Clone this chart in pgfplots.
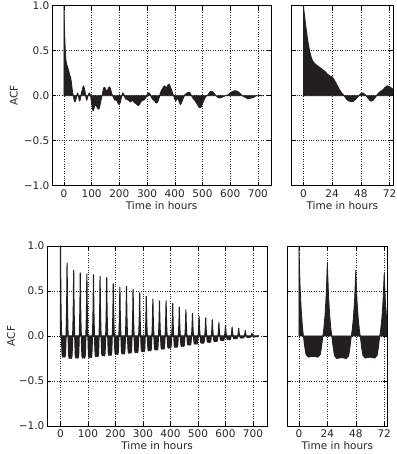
\documentclass[border=0pt]{standalone}
\usepackage{fontspec}
\setmainfont{DejaVu Sans}
\usepackage{pgfplots}
\usepackage{pgfplotstable}
\pgfplotsset{compat=1.18}
\definecolor{acfc}{RGB}{35,31,32}

\pgfplotstableread[row sep=\\]{
x y\\
0 1.00\\ 1 0.88\\ 2 0.77\\ 3 0.67\\ 4 0.58\\ 5 0.51\\ 6 0.45\\ 7 0.41\\ 8 0.38\\ 10 0.35\\
12 0.33\\ 14 0.31\\ 16 0.29\\ 18 0.27\\ 20 0.24\\ 22 0.22\\ 24 0.21\\ 26 0.17\\ 28 0.12\\ 30 0.07\\
32 0.03\\ 34 0.00\\ 36 -0.04\\ 38 -0.06\\ 40 -0.067\\ 42 -0.06\\ 44 -0.035\\ 46 -0.005\\ 48 0.025\\ 50 0.03\\
52 0.005\\ 54 -0.03\\ 56 -0.06\\ 58 -0.055\\ 60 -0.02\\ 62 0.02\\ 64 0.045\\ 66 0.06\\ 68 0.09\\ 70 0.11\\
72 0.10\\ 74 0.08\\ 76 0.05\\ 78 0.01\\ 80 -0.03\\ 82 -0.05\\ 84 -0.04\\ 86 -0.01\\ 88 0.01\\ 90 0.025\\
92 0.03\\ 94 0.02\\ 96 0.00\\ 98 -0.04\\ 100 -0.09\\ 104 -0.16\\ 106 -0.17\\ 108 -0.15\\ 112 -0.10\\ 116 -0.11\\
120 -0.13\\ 124 -0.15\\ 128 -0.14\\ 132 -0.08\\ 136 -0.02\\ 140 0.04\\ 144 0.09\\ 148 0.09\\ 152 0.06\\ 156 0.05\\
160 0.08\\ 164 0.10\\ 168 0.08\\ 172 0.03\\ 176 0.00\\ 180 -0.03\\ 184 -0.05\\ 188 -0.05\\ 192 -0.06\\ 196 -0.09\\
200 -0.10\\ 204 -0.07\\ 208 -0.01\\ 212 0.03\\ 216 0.02\\ 220 -0.02\\ 224 -0.04\\ 228 -0.04\\ 232 -0.05\\ 236 -0.06\\
240 -0.07\\ 244 -0.06\\ 248 -0.05\\ 252 -0.07\\ 256 -0.08\\ 260 -0.09\\ 264 -0.10\\ 268 -0.11\\ 272 -0.10\\ 276 -0.08\\
280 -0.06\\ 284 -0.05\\ 288 -0.05\\ 292 -0.04\\ 296 -0.02\\ 300 0.01\\ 304 0.03\\ 308 0.03\\ 312 0.01\\ 316 -0.02\\
320 -0.04\\ 324 -0.05\\ 328 -0.06\\ 332 -0.08\\ 336 -0.08\\ 340 -0.06\\ 344 -0.02\\ 348 0.03\\ 352 0.06\\ 356 0.08\\
360 0.10\\ 364 0.11\\ 368 0.09\\ 372 0.10\\ 376 0.12\\ 380 0.13\\ 384 0.10\\ 388 0.07\\ 392 0.03\\ 396 0.00\\
400 -0.04\\ 404 -0.055\\ 408 -0.04\\ 412 -0.03\\ 416 -0.07\\ 420 -0.10\\ 424 -0.08\\ 428 -0.05\\ 432 -0.02\\ 436 0.01\\
440 0.02\\ 444 0.03\\ 448 0.035\\ 452 0.035\\ 456 0.03\\ 460 0.00\\ 464 -0.02\\ 468 -0.04\\ 472 -0.05\\ 476 -0.07\\
480 -0.09\\ 484 -0.11\\ 488 -0.13\\ 492 -0.135\\ 496 -0.12\\ 500 -0.09\\ 504 -0.06\\ 508 -0.03\\ 512 -0.01\\ 516 0.00\\
520 0.01\\ 524 0.03\\ 528 0.045\\ 532 0.05\\ 536 0.045\\ 540 0.035\\ 544 0.02\\ 548 0.00\\ 552 -0.01\\ 556 -0.02\\
560 -0.025\\ 564 -0.025\\ 568 -0.02\\ 572 -0.015\\ 576 -0.01\\ 580 -0.005\\ 584 0.00\\ 588 0.005\\ 592 0.01\\ 596 0.02\\
600 0.03\\ 604 0.04\\ 608 0.045\\ 612 0.05\\ 616 0.055\\ 620 0.055\\ 624 0.05\\ 628 0.045\\ 632 0.035\\ 636 0.025\\
640 0.01\\ 644 0.00\\ 648 -0.01\\ 652 -0.015\\ 656 -0.02\\ 660 -0.03\\ 664 -0.035\\ 668 -0.035\\ 672 -0.03\\ 676 -0.025\\
680 -0.025\\ 684 -0.02\\ 688 -0.01\\ 692 -0.005\\ 696 0.00\\ 700 0.00\\ 704 0.00\\ 708 0.005\\ 712 0.00\\ 716 0.00\\
719 0.00\\
}\topdata

\pgfplotstableread[row sep=\\]{
x y\\
0 1.00\\ 1 0.55\\ 2 0.28\\ 3 0.10\\ 4 -0.024\\ 5 -0.129\\ 6 -0.207\\ 8 -0.235\\ 12 -0.226\\ 16 -0.235\\ 18 -0.207\\ 19 -0.129\\ 20 -0.024\\ 21 0.081\\ 22 0.227\\ 23 0.446\\
24 0.81\\ 25 0.446\\ 26 0.227\\ 27 0.081\\ 28 -0.025\\ 29 -0.138\\ 30 -0.22\\ 32 -0.25\\ 36 -0.24\\ 40 -0.25\\ 42 -0.22\\ 43 -0.138\\ 44 -0.025\\ 45 0.073\\ 46 0.204\\ 47 0.402\\
48 0.73\\ 49 0.402\\ 50 0.204\\ 51 0.073\\ 52 -0.025\\ 53 -0.135\\ 54 -0.216\\ 56 -0.245\\ 60 -0.235\\ 64 -0.245\\ 66 -0.216\\ 67 -0.135\\ 68 -0.025\\ 69 0.070\\ 70 0.196\\ 71 0.385\\
72 0.70\\ 73 0.385\\ 74 0.196\\ 75 0.070\\ 76 -0.025\\ 77 -0.135\\ 78 -0.216\\ 80 -0.245\\ 84 -0.235\\ 88 -0.245\\ 90 -0.216\\ 91 -0.135\\ 92 -0.025\\ 93 0.069\\ 94 0.193\\ 95 0.380\\
96 0.69\\ 97 0.380\\ 98 0.193\\ 99 0.069\\ 100 -0.024\\ 101 -0.132\\ 102 -0.211\\ 104 -0.24\\ 108 -0.23\\ 112 -0.24\\ 114 -0.211\\ 115 -0.132\\ 116 -0.024\\ 117 0.068\\ 118 0.190\\ 119 0.374\\
120 0.68\\ 121 0.374\\ 122 0.190\\ 123 0.068\\ 124 -0.023\\ 125 -0.127\\ 126 -0.202\\ 128 -0.23\\ 132 -0.221\\ 136 -0.23\\ 138 -0.202\\ 139 -0.127\\ 140 -0.023\\ 141 0.066\\ 142 0.185\\ 143 0.363\\
144 0.66\\ 145 0.363\\ 146 0.185\\ 147 0.066\\ 148 -0.022\\ 149 -0.121\\ 150 -0.194\\ 152 -0.22\\ 156 -0.211\\ 160 -0.22\\ 162 -0.194\\ 163 -0.121\\ 164 -0.022\\ 165 0.065\\ 166 0.182\\ 167 0.358\\
168 0.65\\ 169 0.358\\ 170 0.182\\ 171 0.065\\ 172 -0.022\\ 173 -0.118\\ 174 -0.189\\ 176 -0.215\\ 180 -0.206\\ 184 -0.215\\ 186 -0.189\\ 187 -0.118\\ 188 -0.022\\ 189 0.058\\ 190 0.162\\ 191 0.319\\
192 0.58\\ 193 0.319\\ 194 0.162\\ 195 0.058\\ 196 -0.021\\ 197 -0.113\\ 198 -0.180\\ 200 -0.205\\ 204 -0.197\\ 208 -0.205\\ 210 -0.180\\ 211 -0.113\\ 212 -0.021\\ 213 0.054\\ 214 0.151\\ 215 0.297\\
216 0.54\\ 217 0.297\\ 218 0.151\\ 219 0.054\\ 220 -0.02\\ 221 -0.11\\ 222 -0.176\\ 224 -0.20\\ 228 -0.192\\ 232 -0.20\\ 234 -0.176\\ 235 -0.11\\ 236 -0.02\\ 237 0.055\\ 238 0.154\\ 239 0.303\\
240 0.55\\ 241 0.303\\ 242 0.154\\ 243 0.055\\ 244 -0.019\\ 245 -0.105\\ 246 -0.167\\ 248 -0.19\\ 252 -0.182\\ 256 -0.19\\ 258 -0.167\\ 259 -0.105\\ 260 -0.019\\ 261 0.052\\ 262 0.146\\ 263 0.286\\
264 0.52\\ 265 0.286\\ 266 0.146\\ 267 0.052\\ 268 -0.019\\ 269 -0.102\\ 270 -0.163\\ 272 -0.185\\ 276 -0.178\\ 280 -0.185\\ 282 -0.163\\ 283 -0.102\\ 284 -0.019\\ 285 0.048\\ 286 0.134\\ 287 0.264\\
288 0.48\\ 289 0.264\\ 290 0.134\\ 291 0.048\\ 292 -0.018\\ 293 -0.096\\ 294 -0.154\\ 296 -0.175\\ 300 -0.168\\ 304 -0.175\\ 306 -0.154\\ 307 -0.096\\ 308 -0.018\\ 309 0.044\\ 310 0.123\\ 311 0.242\\
312 0.44\\ 313 0.242\\ 314 0.123\\ 315 0.044\\ 316 -0.017\\ 317 -0.091\\ 318 -0.145\\ 320 -0.165\\ 324 -0.158\\ 328 -0.165\\ 330 -0.145\\ 331 -0.091\\ 332 -0.017\\ 333 0.041\\ 334 0.115\\ 335 0.226\\
336 0.41\\ 337 0.226\\ 338 0.115\\ 339 0.041\\ 340 -0.016\\ 341 -0.085\\ 342 -0.136\\ 344 -0.155\\ 348 -0.149\\ 352 -0.155\\ 354 -0.136\\ 355 -0.085\\ 356 -0.016\\ 357 0.039\\ 358 0.109\\ 359 0.215\\
360 0.39\\ 361 0.215\\ 362 0.109\\ 363 0.039\\ 364 -0.015\\ 365 -0.080\\ 366 -0.128\\ 368 -0.145\\ 372 -0.139\\ 376 -0.145\\ 378 -0.128\\ 379 -0.080\\ 380 -0.015\\ 381 0.039\\ 382 0.109\\ 383 0.215\\
384 0.39\\ 385 0.215\\ 386 0.109\\ 387 0.039\\ 388 -0.014\\ 389 -0.074\\ 390 -0.119\\ 392 -0.135\\ 396 -0.130\\ 400 -0.135\\ 402 -0.119\\ 403 -0.074\\ 404 -0.014\\ 405 0.036\\ 406 0.101\\ 407 0.198\\
408 0.36\\ 409 0.198\\ 410 0.101\\ 411 0.036\\ 412 -0.013\\ 413 -0.069\\ 414 -0.110\\ 416 -0.125\\ 420 -0.120\\ 424 -0.125\\ 426 -0.110\\ 427 -0.069\\ 428 -0.013\\ 429 0.032\\ 430 0.090\\ 431 0.176\\
432 0.32\\ 433 0.176\\ 434 0.090\\ 435 0.032\\ 436 -0.012\\ 437 -0.063\\ 438 -0.101\\ 440 -0.115\\ 444 -0.110\\ 448 -0.115\\ 450 -0.101\\ 451 -0.063\\ 452 -0.012\\ 453 0.029\\ 454 0.081\\ 455 0.160\\
456 0.29\\ 457 0.160\\ 458 0.081\\ 459 0.029\\ 460 -0.010\\ 461 -0.055\\ 462 -0.088\\ 464 -0.10\\ 468 -0.096\\ 472 -0.10\\ 474 -0.088\\ 475 -0.055\\ 476 -0.010\\ 477 0.025\\ 478 0.070\\ 479 0.138\\
480 0.25\\ 481 0.138\\ 482 0.070\\ 483 0.025\\ 484 -0.009\\ 485 -0.050\\ 486 -0.079\\ 488 -0.09\\ 492 -0.086\\ 496 -0.09\\ 498 -0.079\\ 499 -0.050\\ 500 -0.009\\ 501 0.022\\ 502 0.062\\ 503 0.121\\
504 0.22\\ 505 0.121\\ 506 0.062\\ 507 0.022\\ 508 -0.008\\ 509 -0.044\\ 510 -0.070\\ 512 -0.08\\ 516 -0.077\\ 520 -0.08\\ 522 -0.070\\ 523 -0.044\\ 524 -0.008\\ 525 0.020\\ 526 0.056\\ 527 0.110\\
528 0.20\\ 529 0.110\\ 530 0.056\\ 531 0.020\\ 532 -0.007\\ 533 -0.039\\ 534 -0.062\\ 536 -0.07\\ 540 -0.067\\ 544 -0.07\\ 546 -0.062\\ 547 -0.039\\ 548 -0.007\\ 549 0.018\\ 550 0.050\\ 551 0.099\\
552 0.18\\ 553 0.099\\ 554 0.050\\ 555 0.018\\ 556 -0.006\\ 557 -0.033\\ 558 -0.053\\ 560 -0.06\\ 564 -0.058\\ 568 -0.06\\ 570 -0.053\\ 571 -0.033\\ 572 -0.006\\ 573 0.015\\ 574 0.042\\ 575 0.083\\
576 0.15\\ 577 0.083\\ 578 0.042\\ 579 0.015\\ 580 -0.005\\ 581 -0.028\\ 582 -0.044\\ 584 -0.05\\ 588 -0.048\\ 592 -0.05\\ 594 -0.044\\ 595 -0.028\\ 596 -0.005\\ 597 0.012\\ 598 0.034\\ 599 0.066\\
600 0.12\\ 601 0.066\\ 602 0.034\\ 603 0.012\\ 604 -0.004\\ 605 -0.022\\ 606 -0.035\\ 608 -0.04\\ 612 -0.038\\ 616 -0.04\\ 618 -0.035\\ 619 -0.022\\ 620 -0.004\\ 621 0.010\\ 622 0.028\\ 623 0.055\\
624 0.10\\ 625 0.055\\ 626 0.028\\ 627 0.010\\ 628 -0.003\\ 629 -0.017\\ 630 -0.026\\ 632 -0.03\\ 636 -0.029\\ 640 -0.03\\ 642 -0.026\\ 643 -0.017\\ 644 -0.003\\ 645 0.0085\\ 646 0.024\\ 647 0.047\\
648 0.085\\ 649 0.047\\ 650 0.024\\ 651 0.0085\\ 652 -0.002\\ 653 -0.012\\ 654 -0.019\\ 656 -0.022\\ 660 -0.021\\ 664 -0.022\\ 666 -0.019\\ 667 -0.012\\ 668 -0.002\\ 669 0.006\\ 670 0.017\\ 671 0.033\\
672 0.06\\ 673 0.033\\ 674 0.017\\ 675 0.006\\ 676 -0.002\\ 677 -0.008\\ 678 -0.013\\ 680 -0.015\\ 684 -0.014\\ 688 -0.015\\ 690 -0.013\\ 691 -0.008\\ 692 -0.002\\ 693 0.003\\ 694 0.008\\ 695 0.017\\
696 0.03\\ 697 0.017\\ 698 0.008\\ 699 0.003\\ 700 -0.001\\ 701 -0.006\\ 702 -0.009\\ 704 -0.01\\ 708 -0.0096\\ 712 -0.01\\ 714 -0.009\\ 715 -0.006\\ 716 -0.001\\ 717 0.001\\ 718 0.003\\ 719 0.005\\
}\bottomdata

\pgfplotsset{
  acf/.style={
    scale only axis, height=180pt,
    ymin=-1, ymax=1,
    ytick={-1,-0.5,0,0.5,1},
    grid=major,
    grid style={black!85, dotted, line width=0.45pt},
    tick align=inside,
    major tick length=4pt,
    tick style={black, line width=0.5pt},
    axis line style={black, line width=0.8pt},
    every tick label/.append style={font=\fontsize{10.5}{12}\selectfont, text=black!85},
    label style={font=\fontsize{10.5}{12}\selectfont, text=black!85},
    xticklabel style={inner sep=0pt, anchor=north, yshift=-3.5pt},
    yticklabel style={inner sep=0pt, anchor=east, xshift=-2.5pt},
    xlabel={Time in hours},
    xlabel style={at={(axis description cs:0.5,0)}, anchor=center, yshift=-20pt},
  },
  leftp/.style={
    xtick={0,100,200,300,400,500,600,700},
    xticklabels={0,100,200,300,400,500,600,700},
    yticklabels={−1.0,−0.5,0.0,0.5,1.0},
    ylabel={ACF},
  },
  rightp/.style={
    xtick={0,24,48,72},
    xticklabels={0,24,48,72},
    yticklabels={},
  },
  fillacf/.style={fill=acfc, draw=acfc, line width=0.8pt, line join=round, mark=none},
}

\begin{document}
\begin{tikzpicture}[x=1pt,y=1pt]
\useasboundingbox (0,0) rectangle (396,454);
% top left
\begin{axis}[acf, leftp, at={(52pt,268.3pt)}, anchor=south west, width=219.2pt,
  xmin=-43, xmax=748,
  ylabel style={at={(axis description cs:-0.1746,0.5)}, anchor=center}]
\addplot[fillacf] table[x=x,y=y]{\topdata} \closedcycle;
\end{axis}
% top right
\begin{axis}[acf, rightp, at={(291.7pt,268.3pt)}, anchor=south west, width=101.3pt,
  xmin=-9.8, xmax=74.8]
\addplot[fillacf] table[x=x,y=y]{\topdata} \closedcycle;
\end{axis}
% bottom left
\begin{axis}[acf, leftp, at={(47pt,28pt)}, anchor=south west, width=220.2pt,
  xmin=-49, xmax=751.6,
  ylabel style={at={(axis description cs:-0.163,0.5)}, anchor=center}]
\addplot[fillacf, line width=1.1pt] table[x=x,y=y]{\bottomdata} \closedcycle;
\end{axis}
% bottom right
\begin{axis}[acf, rightp, at={(287.3pt,28pt)}, anchor=south west, width=100pt,
  xmin=-9.8, xmax=74.6]
\addplot[fillacf] table[x=x,y=y]{\bottomdata} \closedcycle;
\end{axis}
\end{tikzpicture}
\end{document}
